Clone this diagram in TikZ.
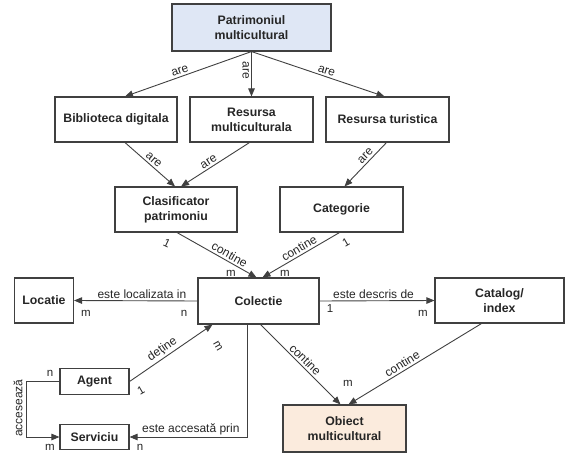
\documentclass[tikz,border=0pt]{standalone}
\usepackage{fontspec}
\setmainfont{Liberation Sans}
\usetikzlibrary{arrows.meta,calc}
\definecolor{lineC}{HTML}{404040}
\definecolor{txtC}{HTML}{262626}
\definecolor{blueF}{HTML}{DFE7F5}
\definecolor{peachF}{HTML}{FBEBDD}
\tikzset{
  box/.style={draw=lineC, line width=1.1pt, rectangle, align=center, inner sep=1pt,
    font=\fontsize{12.3}{15}\selectfont\bfseries, text=txtC},
  conn/.style={draw=lineC, line width=0.9pt, -{Triangle[length=8pt,width=6.5pt]}},
  lbl/.style={font=\fontsize{12}{14}\selectfont, text=txtC, inner sep=2pt},
  card/.style={font=\fontsize{11.5}{13}\selectfont, text=txtC, inner sep=0pt},
}
\begin{document}
\begin{tikzpicture}[x=1pt,y=-1pt]
\useasboundingbox (0,0) rectangle (566,453);
% nodes
\node[box, fill=blueF, minimum width=159pt, minimum height=47pt] (pat) at (251.5,27.5) {Patrimoniul\\multicultural};
\node[box, minimum width=122pt, minimum height=45pt] (bib) at (116,119.5) {Biblioteca digitala};
\node[box, minimum width=123pt, minimum height=45pt] (rmc) at (251.5,119.5) {Resursa\\multiculturala};
\node[box, minimum width=123pt, minimum height=45pt] (rtu) at (387.5,119.5) {Resursa turistica};
\node[box, minimum width=122pt, minimum height=45pt] (cls) at (176,209.5) {Clasificator\\patrimoniu};
\node[box, minimum width=123pt, minimum height=45pt] (cat) at (341.5,209.5) {Categorie};
\node[box, minimum width=59pt, minimum height=45pt] (loc) at (44,300.5) {Locatie};
\node[box, minimum width=121pt, minimum height=46pt] (col) at (258.5,301) {Colectie};
\node[box, minimum width=129pt, minimum height=45pt] (ctl) at (499.5,300.5) {Catalog/\\index};
\node[box, minimum width=69pt, minimum height=26pt] (agt) at (94.5,381.5) {Agent};
\node[box, minimum width=69pt, minimum height=25pt] (srv) at (94.5,437) {Serviciu};
\node[box, fill=peachF, minimum width=123pt, minimum height=47pt] (obj) at (344.5,428.5) {Obiect\\multicultural};

% connectors
\draw[conn] (pat.south) -- node[lbl, sloped, above, pos=0.55] {are} ([xshift=9pt]bib.north);
\draw[conn] (pat.south) -- node[lbl, sloped, below, pos=0.42] {are} (rmc.north);
\draw[conn] (pat.south) -- node[lbl, sloped, above, pos=0.55] {are} ([xshift=-3pt]rtu.north);
\draw[conn] ([xshift=9pt]bib.south) -- node[lbl, sloped, above, pos=0.5] {are} ([xshift=-1pt]cls.north);
\draw[conn] ([xshift=-2pt]rmc.south) -- node[lbl, sloped, above, pos=0.55] {are} ([xshift=5pt]cls.north);
\draw[conn] ([xshift=-1pt]rtu.south) -- node[lbl, sloped, above, pos=0.4] {are} ([xshift=3pt]cat.north);
\draw[conn] ([xshift=1pt]cls.south) -- node[lbl, sloped, above, pos=0.62] {contine} ([xshift=-2pt]col.north);
\draw[conn] ([xshift=-2pt]cat.south) -- node[lbl, sloped, above, pos=0.48] {contine} ([xshift=4pt]col.north);
\draw[conn] (col.west) -- node[lbl, above, pos=0.45] {este localizata in} (loc.east);
\draw[conn] (col.east) -- node[lbl, above, pos=0.47] {este descris de} (ctl.west);
\draw[conn] (agt.east) -- node[lbl, sloped, above, pos=0.45] {deţine} ([xshift=-46pt]col.south);
\draw[conn] (agt.west) -- ++(-33pt,0) coordinate (ac) |- (srv.west);
\node[lbl, rotate=90] (acl) at (18,408) {accesează};
\draw[conn] ([xshift=-11pt]col.south) |- node[lbl, above, pos=0.74] {este accesată prin} (srv.east);
\draw[conn] ([xshift=2pt]col.south) -- node[lbl, sloped, above, pos=0.5] {contine} ([xshift=-4pt]obj.north);
\draw[conn] ([xshift=-18pt]ctl.south) -- node[lbl, sloped, above, pos=0.57] {contine} ([xshift=4pt]obj.north);

% cardinalities
\node[card, rotate=-25] (k1) at (167,243) {1};
\node[card] (k2) at (231,273) {m};
\node[card, rotate=30] (k3) at (346,242) {1};
\node[card] (k4) at (285,273) {m};
\node[card] (k5) at (86,313) {m};
\node[card] (k6) at (184,313) {n};
\node[card] (k7) at (330,309) {1};
\node[card] (k8) at (423,313) {m};
\node[card, rotate=-60] (k9) at (218,346) {m};
\node[card, rotate=30] (k10) at (141,390) {1};
\node[card] (k11) at (50,373) {n};
\node[card] (k12) at (50,447) {m};
\node[card] (k13) at (140,447) {n};
\node[card] (k14) at (348,383) {m};
\end{tikzpicture}
\end{document}
